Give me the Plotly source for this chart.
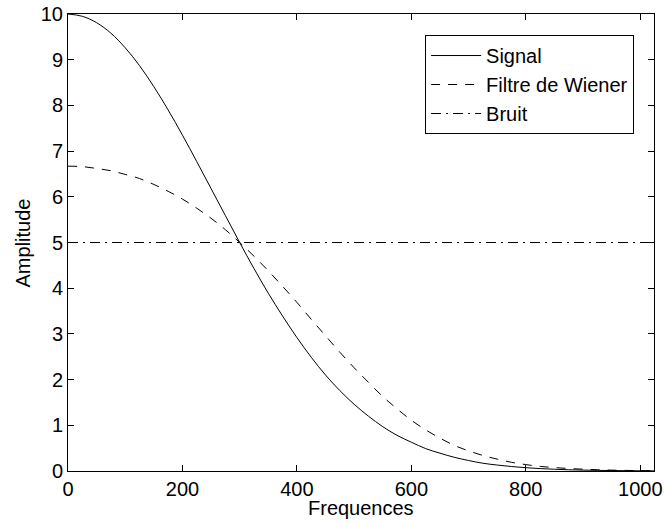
import plotly.graph_objects as go

freq = [0, 25, 50, 75, 100, 125, 150, 175, 200, 225, 250, 275, 300, 325, 350, 375,
        400, 425, 450, 475, 500, 525, 550, 575, 600, 625, 650, 675, 700, 725, 750,
        775, 800, 825, 850, 875, 900, 925, 950, 975, 1000, 1024]

signal = [10.00, 9.95, 9.81, 9.58, 9.26, 8.87, 8.41, 7.90, 7.35, 6.77, 6.18, 5.59,
          5.00, 4.43, 3.89, 3.39, 2.92, 2.49, 2.10, 1.76, 1.46, 1.20, 0.97, 0.78,
          0.63, 0.49, 0.39, 0.30, 0.23, 0.17, 0.13, 0.098, 0.072, 0.053, 0.038,
          0.027, 0.020, 0.014, 0.0096, 0.0066, 0.0045, 0.003]

wiener = [6.67, 6.66, 6.62, 6.57, 6.49, 6.40, 6.27, 6.12, 5.95, 5.75, 5.53, 5.28,
          5.00, 4.70, 4.38, 4.04, 3.69, 3.32, 2.96, 2.60, 2.26, 1.94, 1.63, 1.36,
          1.11, 0.90, 0.72, 0.56, 0.44, 0.34, 0.26, 0.19, 0.14, 0.10, 0.075,
          0.054, 0.040, 0.028, 0.019, 0.013, 0.009, 0.006]

noise_x = [0, 1024]
noise = [5, 5]

names = ["Signal", "Filtre de Wiener", "Bruit"]
x_title = "Frequences"
y_title = "Amplitude"
x_ticks = [0, 200, 400, 600, 800, 1000]
y_ticks = list(range(0, 11))

FONT = "Liberation Sans, Arial, Helvetica, sans-serif"
FS = 20

fig = go.Figure()
fig.add_trace(go.Scatter(x=freq, y=signal, mode="lines", name=names[0], legendgroup="a",
                         line=dict(color="black", width=1, shape="spline")))
fig.add_trace(go.Scatter(x=freq, y=wiener, mode="lines", name=names[1], legendgroup="b",
                         line=dict(color="black", width=1, dash="9px,8px", shape="spline")))
fig.add_trace(go.Scatter(x=noise_x, y=noise, mode="lines", name=names[2], legendgroup="c",
                         line=dict(color="black", width=1, dash="10px,5px,2px,5px")))

axis_common = dict(showline=True, linecolor="black", linewidth=1, mirror="ticks",
                   ticks="inside", ticklen=6, tickcolor="black", showgrid=False,
                   zeroline=False, automargin=False,
                   tickfont=dict(family=FONT, size=FS, color="black"))

fig.update_layout(
    width=665, height=524,
    margin=dict(l=68, r=11, t=14, b=53),
    plot_bgcolor="white", paper_bgcolor="white",
    font=dict(family=FONT, size=FS, color="black"),
    xaxis=dict(range=[0, 1024], tickvals=x_ticks, **axis_common),
    yaxis=dict(range=[0, 10], tickvals=y_ticks, **axis_common),
    legend=dict(x=0.966, y=0.954, xanchor="right", yanchor="top", bordercolor="black",
                borderwidth=1, bgcolor="white", font=dict(family=FONT, size=FS),
                tracegroupgap=0, itemwidth=50),
    showlegend=True,
    annotations=[
        dict(text=x_title, xref="paper", yref="paper", x=0.5, y=-0.082,
             xanchor="center", yanchor="middle", showarrow=False,
             font=dict(family=FONT, size=FS, color="black")),
        dict(text=y_title, xref="paper", yref="paper", x=-0.0768, y=0.5,
             xanchor="center", yanchor="middle", textangle=-90, showarrow=False,
             font=dict(family=FONT, size=FS, color="black")),
    ],
)

# remove the default 8px page margin so the figure sits at the window origin
fig.write_html("out.html", config={"displayModeBar": False},
               post_script="document.body.style.margin='0';")
